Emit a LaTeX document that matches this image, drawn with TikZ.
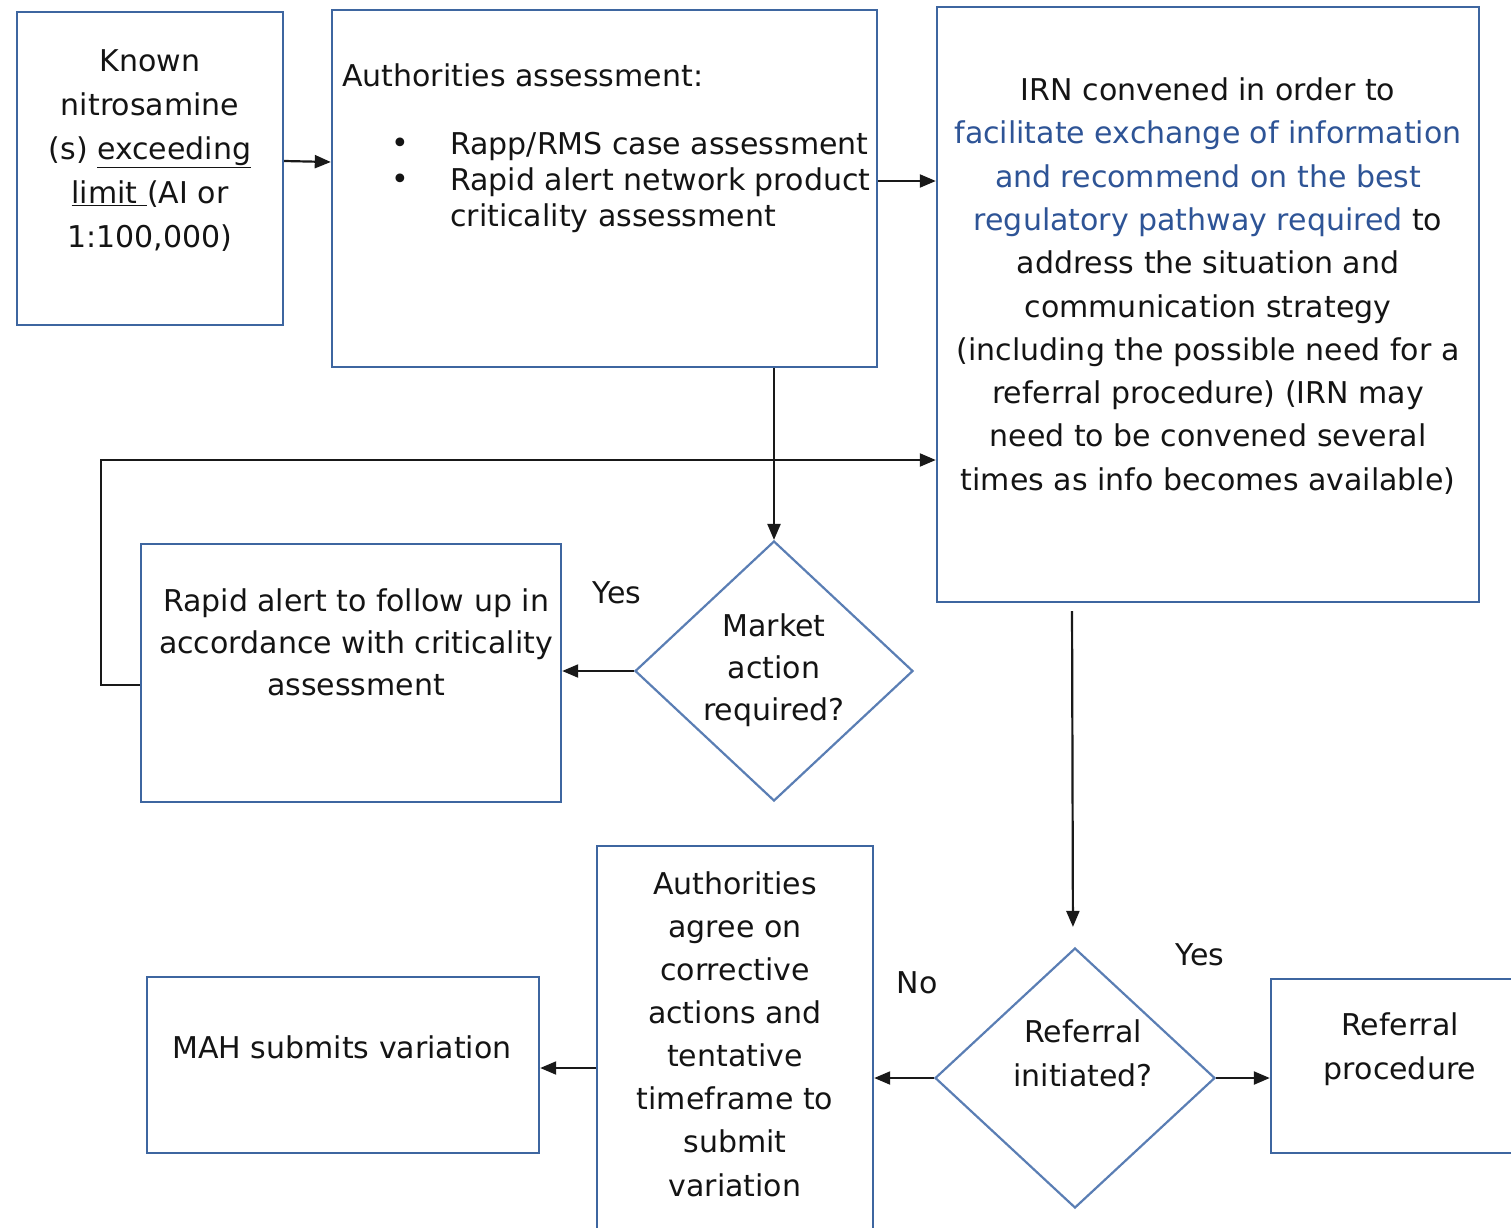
\documentclass[tikz,border=0pt]{standalone}
\usepackage{fontspec}
\setmainfont{DejaVu Sans}
\usetikzlibrary{shapes.geometric,arrows.meta}
\definecolor{boxblue}{RGB}{62,102,160}
\definecolor{diablue}{RGB}{90,126,180}
\definecolor{txtblue}{RGB}{46,84,150}
\definecolor{txtgray}{RGB}{20,20,20}
\begin{document}
\begin{tikzpicture}[x=1pt,y=-1pt,
  box/.style={draw=boxblue,line width=2.4pt,rectangle,inner sep=0pt},
  dia/.style={draw=diablue,line width=2.2pt,diamond,inner sep=0pt},
  txt/.style={text=txtgray,font=\fontsize{30}{#1}\selectfont,align=center,inner sep=0pt},
  txt/.default=43,
  arr/.style={-{Triangle[length=16pt,width=13pt]},line width=2.2pt,black!90}]
\useasboundingbox (0,0) rectangle (1511,1227);
\clip (0,0) rectangle (1511,1227);
% boxes
\node[box,minimum width=266,minimum height=313] (A) at (150,168.5) {};
\node[box,minimum width=545,minimum height=357] (B) at (604.5,188.5) {};
\node[box,minimum width=542,minimum height=595] (C) at (1208,304.5) {};
\node[box,minimum width=420,minimum height=258] (D) at (351,673) {};
\node[box,minimum width=276,minimum height=420] (E) at (735,1056) {};
\node[box,minimum width=392,minimum height=176] (F) at (343,1065) {};
\node[box,minimum width=270,minimum height=174] (G) at (1406,1066) {};
\node[dia,minimum width=278,minimum height=260] (M) at (774,671) {};
\node[dia,minimum width=280,minimum height=260] (R) at (1075,1078) {};
% texts
\node[txt=44] (tA) at (150,151) {Known\\nitrosamine\\(s) \underline{exceeding}\\\underline{limit }(AI or\\1:100,000)};
\node[txt,anchor=west] (tB) at (342,75) {Authorities assessment:};
\node[txt] (b1) at (400,146) {•};
\node[txt] (b2) at (400,182) {•};
\node[txt=36,align=left,anchor=west] (tB2) at (450,182) {Rapp/RMS case assessment\\Rapid alert network product\\criticality assessment};
\node[txt=43.3] (tC) at (1208,286) {IRN convened in order to\\
\textcolor{txtblue}{facilitate exchange of information}\\
\textcolor{txtblue}{and recommend on the best}\\
\textcolor{txtblue}{regulatory pathway required} to\\
address the situation and\\
communication strategy\\
(including the possible need for a\\
referral procedure) (IRN may\\
need to be convened several\\
times as info becomes available)};
\node[txt=42] (tD) at (356,642) {Rapid alert to follow up in\\accordance with criticality\\assessment};
\node[txt=42] (tM) at (774,670) {Market\\action\\required?};
\node[txt=43.1] (tE) at (735,1034) {Authorities\\agree on\\corrective\\actions and\\tentative\\timeframe to\\submit\\variation};
\node[txt] (tF) at (342,1047) {MAH submits variation};
\node[txt=44] (tR) at (1083,1053) {Referral\\initiated?};
\node[txt=44] (tG) at (1400,1049) {Referral\\procedure};
\node[txt] (y1) at (617,593) {Yes};
\node[txt] (n1) at (917,983) {No};
\node[txt] (y2) at (1200,955) {Yes};
% connectors
\draw[arr] (A.east|-0,161) -- (B.west|-0,162);
\draw[arr] (B.east|-0,181) -- (C.west|-0,181);
\draw[arr] (B.south-|M.north) -- (M.north);
\draw[arr] (M.west) -- (D.east|-M.west);
\coordinate (k1) at (101,685);
\coordinate (k2) at (101,460);
\draw[arr] (D.west|-k1) -- (k1) -- (k2) -- (C.west|-k2);
\draw[arr,shorten <=8pt,shorten >=20pt] ([xshift=-3pt]R.north|-C.south) -- ([xshift=-2pt]R.north);
\draw[arr] (R.west) -- (E.east|-R.west);
\draw[arr] (R.east) -- (G.west|-R.east);
\draw[arr] (E.west|-0,1068) -- (F.east|-0,1068);
\end{tikzpicture}
\end{document}
